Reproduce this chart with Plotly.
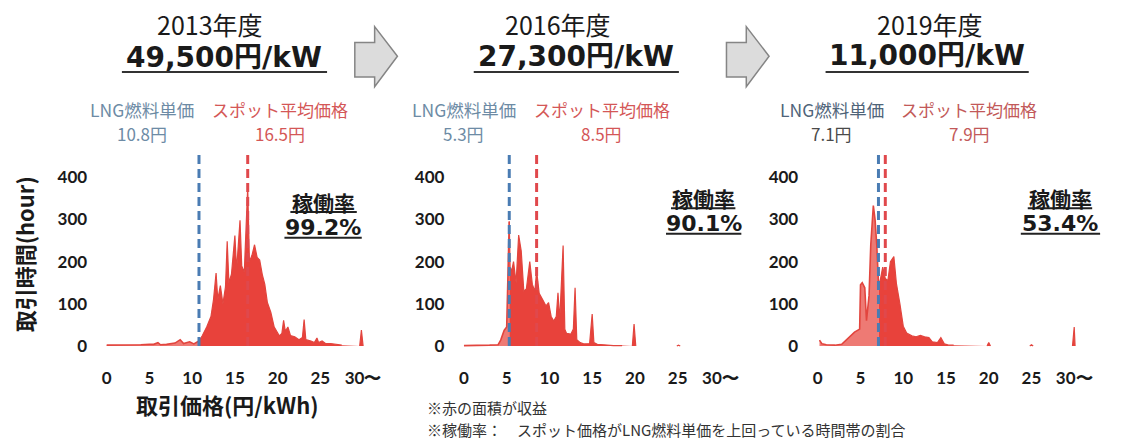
import plotly.graph_objects as go

W, H = 1122, 447

# ---- data -------------------------------------------------------------
years = ["2013年度", "2016年度", "2019年度"]
unit_values = ["49,500円/kW", "27,300円/kW", "11,000円/kW"]
lng_price = [10.8, 5.3, 7.1]
spot_avg = [16.5, 8.5, 7.9]
utilization = ["99.2%", "90.1%", "53.4%"]

x_tick_vals = [0, 5, 10, 15, 20, 25, 30]
x_tick_text = ["0", "5", "10", "15", "20", "25", "30〜"]
y_tick_vals = [0, 100, 200, 300, 400]

# hours traded at each price (円/kWh); None marks price ranges with no trades
price_2013 = [0, 1, 2, 3, 4, 5, 5.5, 6, 6.3, 7, 7.5, 8, 8.6, 9, 9.7, 10.2, 10.8,
              11.2, 11.7, 12.2, 12.5, 12.8, 13.0, 13.3, 13.6, 13.9, 14.1, 14.3,
              14.6, 15.0, 15.2, 15.6, 15.8, 16.1, 16.5, 16.7, 17.0, 17.3, 17.6,
              17.9, 18.2, 18.5, 18.8, 19.2, 19.6, 20.2, 20.5, 20.7, 20.9, 21.2,
              21.5, 22.0, 22.5, 22.9, 23.1, 23.3, 23.9, 24.3, 24.6, 24.8, 25.2,
              25.6, 26.2, 27.0, 27.5, 28.5, 29.6, 29.8, 30.0]
hours_2013 = [2, 2, 2, 3, 3, 4, 4, 8, 3, 4, 5, 7, 15, 6, 10, 5, 12,
              25, 45, 70, 110, 173, 110, 143, 100, 140, 248, 150,
              170, 262, 180, 298, 190, 175, 376, 200, 215, 240, 210,
              204, 170, 146, 103, 80, 45, 24, 30, 61, 35, 45,
              25, 22, 15, 20, 63, 15, 12, 8, 19, 8, 12,
              6, 6, 3, 2, None, 0, 38, 0]

price_2016 = [0, 1, 2, 3, 4.0, 4.3, 4.7, 5.0, 5.3, 5.4, 5.6, 5.8, 6.1, 6.4, 6.7,
              7.0, 7.3, 7.7, 8.0, 8.3, 8.5, 8.8, 9.2, 9.6, 9.9, 10.2, 10.5,
              10.8, 11.0, 11.2, 11.6, 11.8, 12.0, 12.5, 12.8, 13.0, 13.2, 13.6,
              14.0, 14.7, 15.0, 15.2, 15.6, 16.5, 17.5, 18.5, 19.0, 19.7, 19.9,
              20.1, 21.0, 24.9, 25.1, 25.3]
hours_2016 = [1, 1, 1, 2, 3, 14, 37, 45, 295, 185, 180, 200, 150, 263, 225,
              130, 135, 200, 146, 130, 178, 125, 110, 95, 103, 70, 59,
              70, 126, 60, 238, 40, 30, 28, 40, 138, 15, 8,
              5, 6, 76, 8, 4, 2, 1, 1, None, 0, 52,
              0, None, 0, 2, 0]

price_2019 = [0.2, 0.5, 1, 2, 2.8, 3.3, 3.8, 4.3, 4.9, 5.0, 5.2, 5.5, 5.7, 6.0,
              6.2, 6.5, 6.7, 6.9, 7.1, 7.3, 7.6, 7.9, 8.2, 8.5, 8.9, 9.2, 9.6,
              10.0, 10.4, 11.0, 11.5, 12.0, 12.5, 13.0, 13.4, 14.0, 14.4, 14.8,
              15.3, 15.9, 17.0, 19.8, 20.0, 20.2, 22.0, 24.8, 25.0, 25.2, 27.0,
              29.8, 30.0, 30.1]
hours_2019 = [14, 5, 3, 2, 4, 14, 22, 33, 40, 145, 150, 138, 60, 120,
              240, 333, 300, 240, 150, 155, 187, 160, 155, 200, 212, 148, 101,
              47, 31, 24, 22, 25, 22, 20, 10, 8, 20, 5,
              2, 2, None, 0, 8, 0, None, 0, 3, 0, None,
              0, 45, 0]

series = [(price_2013, hours_2013), (price_2016, hours_2016), (price_2019, hours_2019)]

# ---- geometry helpers (pixel -> paper) -------------------------------
def px(x):
    return x / W


def py(y):
    return 1 - y / H


x_domains = [[px(99), px(375)], [px(459.5), px(735.5)], [px(816.5), px(1092.5)]]
y_domain = [py(355), py(154)]
y_range = [-10, 460]

RED = "#e8423b"
RED_LINE = "#e2453e"
BLUE_DASH = "#4a7cb3"
RED_DASH = "#e0484c"
TICK_FONT = dict(family="Lato", size=17, color="#1a1a1a", weight="bold")

fig = go.Figure()

for i, (xs, ys) in enumerate(series):
    axis_id = "" if i == 0 else str(i + 1)
    lng = lng_price[i]
    below_x = [x for x, y in zip(xs, ys) if x <= lng]
    below_y = [y for x, y in zip(xs, ys) if x <= lng]
    above_x = [x for x, y in zip(xs, ys) if x >= lng]
    above_y = [y for x, y in zip(xs, ys) if x >= lng]

    # hours priced below the LNG fuel cost
    fig.add_trace(go.Scatter(
        x=below_x, y=below_y, mode="lines",
        line=dict(color=RED_LINE, width=1.6),
        fill="tozeroy", fillcolor="rgba(232,70,62,0.72)",
        xaxis="x" + axis_id, yaxis="y" + axis_id,
        showlegend=False, hoverinfo="skip", connectgaps=False,
    ))
    # hours priced above the LNG fuel cost: the revenue area
    fig.add_trace(go.Scatter(
        x=above_x, y=above_y, mode="lines",
        line=dict(color=RED_LINE, width=1.2),
        fill="tozeroy", fillcolor=RED,
        xaxis="x" + axis_id, yaxis="y" + axis_id,
        showlegend=False, hoverinfo="skip", connectgaps=False,
    ))

    # LNG fuel cost and spot average price markers
    for val, col in ((lng, BLUE_DASH), (spot_avg[i], RED_DASH)):
        fig.add_shape(type="line", x0=val, x1=val, y0=0, y1=y_range[1],
                      xref="x" + axis_id, yref="y" + axis_id,
                      line=dict(color=col, width=3, dash="9px,5px"), layer="above")

    fig.update_layout(**{
        "xaxis" + axis_id: dict(
            domain=x_domains[i], range=[-1, 31], tickvals=x_tick_vals,
            ticktext=x_tick_text, showgrid=False, zeroline=False, showline=False,
            ticks="", ticklabelstandoff=16, tickfont=TICK_FONT,
            anchor="y" + axis_id, fixedrange=True,
        ),
        "yaxis" + axis_id: dict(
            domain=y_domain, range=y_range, tickvals=y_tick_vals,
            showgrid=False, zeroline=False, showline=False, ticks="",
            ticklabelstandoff=10, tickfont=TICK_FONT,
            anchor="x" + axis_id, fixedrange=True,
        ),
    })

# ---- header text ------------------------------------------------------
year_pos = [(212, 24), (563, 24), (938, 24)]
unit_pos = [(226, 58), (581, 57), (935, 56)]
underline_unit = [(123, 330), (478, 685), (833, 1038)]
lng_label_x = [143, 468, 839]
spot_label_x = [283, 607, 978]
util_x = [326, 710, 1070]
util_title_y = [205, 201, 201]
util_val_y = [231, 227, 227]
util_title_span = [(293, 360), (677, 742), (1037, 1102)]
util_val_span = [(287, 365), (672, 748), (1030, 1110)]
lng_colors = ["#6d8ba5", "#6d8ba5", "#4f6479"]
lng_val_colors = ["#6d8ba5", "#6d8ba5", "#4a4a4a"]
spot_colors = ["#d45757", "#d45757", "#c25959"]

annotations = []


def note(text, x, y, size, color="#1a1a1a", family="Noto Sans CJK JP",
         xanchor="center", angle=0):
    annotations.append(dict(
        text=text, x=px(x), y=py(y), xref="paper", yref="paper",
        xanchor=xanchor, yanchor="middle", showarrow=False, textangle=angle,
        font=dict(family=family, size=size, color=color),
    ))


for i in range(3):
    note(years[i], *year_pos[i], 25)
    note("<b>" + unit_values[i] + "</b>", *unit_pos[i], 28,
         family="DejaVu Sans, Noto Sans CJK JP")
    x0, x1 = underline_unit[i]
    fig.add_shape(type="line", xref="paper", yref="paper",
                  x0=px(x0), x1=px(x1), y0=py(73), y1=py(73),
                  line=dict(color="#333333", width=2))

    note("LNG燃料単価", lng_label_x[i], 111, 17.5, color=lng_colors[i])
    note(f"{lng_price[i]}円", lng_label_x[i], 135, 17, color=lng_val_colors[i])
    note("スポット平均価格", spot_label_x[i], 111, 17, color=spot_colors[i])
    note(f"{spot_avg[i]}円", spot_label_x[i], 135, 17, color=spot_colors[i])

    note("<b>稼働率</b>", util_x[i], util_title_y[i], 21)
    note("<b>" + utilization[i] + "</b>", util_x[i], util_val_y[i], 22,
         family="DejaVu Sans")
    for (a, b), yy in ((util_title_span[i], util_title_y[i] + 10),
                       (util_val_span[i], util_val_y[i] + 10)):
        fig.add_shape(type="line", xref="paper", yref="paper",
                      x0=px(a), x1=px(b), y0=py(yy), y1=py(yy),
                      line=dict(color="#222222", width=2))

# axis titles
note("<b>取引時間(hour)</b>", 24, 258, 22, angle=-90)
note("<b>取引価格(円/kWh)</b>", 230, 410, 22)

# footnotes
note("※赤の面積が収益", 429, 413, 15, color="#333333", xanchor="left")
note("※稼働率：　スポット価格がLNG燃料単価を上回っている時間帯の割合", 429, 435, 15,
     color="#333333", xanchor="left")

# ---- block arrows between years --------------------------------------
def arrow_path(x0):
    pts = [(x0, 43), (x0 + 20, 43), (x0 + 20, 27), (x0 + 43, 57),
           (x0 + 20, 88), (x0 + 20, 78), (x0, 78)]
    return "M " + " L ".join(f"{px(a):.5f},{py(b):.5f}" for a, b in pts) + " Z"


for ax0 in (358, 733):
    fig.add_shape(type="path", xref="paper", yref="paper", path=arrow_path(ax0),
                  fillcolor="#dcdcdc", line=dict(color="#858585", width=1.5))

fig.update_layout(
    width=W, height=H, autosize=False,
    margin=dict(l=0, r=0, t=0, b=0),
    paper_bgcolor="white", plot_bgcolor="white",
    annotations=annotations, showlegend=False,
)

fig.write_html("out.html")
